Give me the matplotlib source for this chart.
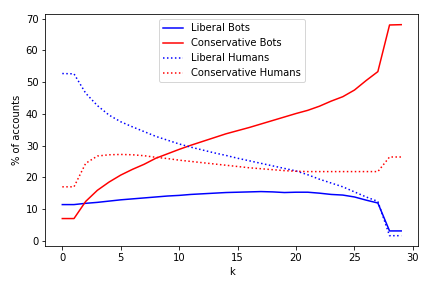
import matplotlib
matplotlib.use('Agg')
import matplotlib.pyplot as plt

k = list(range(30))

liberal_bots = [11.4, 11.4, 11.8, 12.1, 12.5, 12.9, 13.2, 13.5, 13.8, 14.1,
                14.3, 14.6, 14.8, 15.0, 15.2, 15.3, 15.4, 15.5, 15.4, 15.2,
                15.3, 15.3, 15.0, 14.6, 14.4, 13.8, 12.8, 11.9, 3.1, 3.1]
conservative_bots = [7.0, 7.0, 12.4, 15.9, 18.5, 20.7, 22.5, 24.1, 26.0, 27.4,
                     28.8, 30.1, 31.3, 32.5, 33.7, 34.7, 35.7, 36.8, 37.9, 39.0,
                     40.1, 41.1, 42.4, 44.0, 45.4, 47.5, 50.5, 53.3, 68.0, 68.1]
liberal_humans = [52.7, 52.6, 46.5, 42.6, 39.6, 37.5, 35.9, 34.4, 32.9, 31.7,
                  30.5, 29.5, 28.6, 27.7, 26.9, 26.0, 25.2, 24.4, 23.6, 22.8,
                  22.0, 20.8, 19.4, 18.2, 17.0, 15.4, 13.8, 12.4, 1.6, 1.6]
conservative_humans = [17.0, 17.0, 24.4, 26.7, 27.1, 27.2, 27.1, 26.8, 26.3, 25.9,
                       25.4, 25.0, 24.6, 24.2, 23.8, 23.4, 23.0, 22.7, 22.4, 22.1,
                       21.9, 21.8, 21.8, 21.8, 21.8, 21.8, 21.8, 21.8, 26.4, 26.4]

fig = plt.figure(figsize=(6, 4), dpi=72)
ax = fig.add_subplot(111)

ax.plot(k, liberal_bots, 'b-', label='Liberal Bots')
ax.plot(k, conservative_bots, 'r-', label='Conservative Bots')
ax.plot(k, liberal_humans, 'b:', label='Liberal Humans')
ax.plot(k, conservative_humans, 'r:', label='Conservative Humans')

ax.set_xlabel('k')
ax.set_ylabel('% of accounts')
ax.legend(loc='upper center')

fig.subplots_adjust(left=0.105, right=0.968, top=0.951, bottom=0.145)
plt.savefig('out.png', dpi=72)
